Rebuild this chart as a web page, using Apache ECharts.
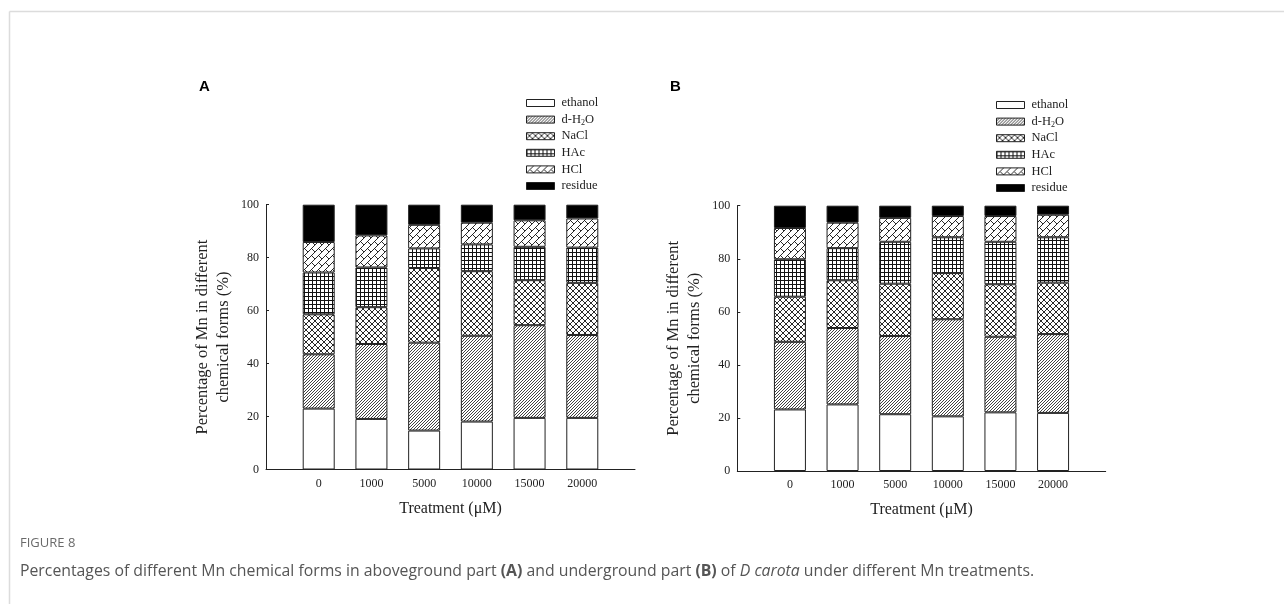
<!DOCTYPE html>
<html>
<head>
<meta charset="utf-8">
<script src="https://cdn.jsdelivr.net/npm/echarts@6/dist/echarts.min.js"></script>
<style>
html,body{margin:0;padding:0;background:#fff;}
#chart{width:1284px;height:604px;}
</style>
</head>
<body>
<div id="chart"></div>
<script>
// ---- data ----
const categories = ['0', '1000', '5000', '10000', '15000', '20000'];
const formNames = ['ethanol', 'd-H2O', 'NaCl', 'HAc', 'HCl', 'residue'];
const yTicks = [0, 20, 40, 60, 80, 100];

// Panel A (aboveground part), % of Mn
const aEthanol = [23.0, 19.1, 14.7, 18.1, 19.5, 19.5];
const aDH2O    = [20.5, 28.3, 33.2, 32.4, 35.0, 31.3];
const aNaCl    = [15.1, 13.9, 28.2, 24.4, 17.0, 19.7];
const aHAc     = [15.8, 15.0, 7.4, 10.1, 12.6, 13.3];
const aHCl     = [11.5, 12.1, 8.9, 8.2, 10.0, 11.0];
const aResidue = [14.1, 11.6, 7.6, 6.8, 5.9, 5.2];

// Panel B (underground part), % of Mn
const bEthanol = [23.2, 25.1, 21.4, 20.6, 22.1, 21.9];
const bDH2O    = [25.5, 28.8, 29.5, 36.6, 28.5, 29.7];
const bNaCl    = [17.0, 18.0, 19.7, 17.4, 19.8, 19.4];
const bHAc     = [14.1, 12.1, 15.8, 13.5, 16.0, 17.1];
const bHCl     = [11.8, 9.6, 9.0, 8.0, 9.7, 8.5];
const bResidue = [8.4, 6.4, 4.6, 3.9, 3.9, 3.4];

// ---- patterns ----
function tile(s, draw) {
  const c = document.createElement('canvas');
  c.width = s; c.height = s;
  const ctx = c.getContext('2d');
  ctx.fillStyle = '#fff';
  ctx.fillRect(0, 0, s, s);
  ctx.strokeStyle = '#111';
  draw(ctx, s);
  return { image: c, repeat: 'repeat' };
}
function line(ctx, x1, y1, x2, y2) {
  ctx.beginPath(); ctx.moveTo(x1, y1); ctx.lineTo(x2, y2); ctx.stroke();
}
const patterns = {
  'ethanol': '#ffffff',
  'd-H2O': tile(3, (ctx, s) => {
    ctx.lineWidth = 0.8;
    line(ctx, -s, s, s, -s); line(ctx, 0, s, s, 0); line(ctx, 0, 2 * s, 2 * s, 0);
  }),
  'NaCl': tile(6, (ctx, s) => {
    ctx.lineWidth = 0.9;
    line(ctx, -1, -1, s + 1, s + 1); line(ctx, -1, s + 1, s + 1, -1);
  }),
  'HAc': tile(4, (ctx, s) => {
    ctx.lineWidth = 1;
    line(ctx, 0.5, 0, 0.5, s); line(ctx, 0, 0.5, s, 0.5);
  }),
  'HCl': tile(7, (ctx, s) => {
    ctx.lineWidth = 0.9;
    line(ctx, -s, s, s, -s); line(ctx, 0, s, s, 0); line(ctx, 0, 2 * s, 2 * s, 0);
    line(ctx, s / 2, s / 2, s, s);
  }),
  'residue': '#000000'
};

const FONT = 'Liberation Serif';
const xData = [''].concat(categories, ['']);
function pad(arr) { return ['-'].concat(arr, ['-']); }

function makeSeries(idx, stackId, arrays) {
  return formNames.map((name, i) => ({
    name: name,
    type: 'bar',
    stack: stackId,
    xAxisIndex: idx,
    yAxisIndex: idx,
    barWidth: 32,
    data: pad(arrays[i]),
    itemStyle: { color: patterns[name], borderColor: '#222', borderWidth: 1 },
    emphasis: { disabled: true }
  }));
}

function xAxis(idx) {
  return {
    type: 'category', gridIndex: idx, data: xData, boundaryGap: false,
    axisLine: { lineStyle: { color: '#222', width: 1 } },
    axisTick: { show: false },
    axisLabel: { color: '#222', fontFamily: FONT, fontSize: 12, margin: 8, interval: 0 },
    name: 'Treatment (\u03bcM)', nameLocation: 'middle', nameGap: 31,
    nameTextStyle: { color: '#222', fontFamily: FONT, fontSize: 16 }
  };
}
function yAxis(idx) {
  return {
    type: 'value', gridIndex: idx, min: 0, max: 100, interval: 20,
    axisLine: { show: true, lineStyle: { color: '#222', width: 1 } },
    axisTick: { show: true, inside: true, length: 3, lineStyle: { color: '#222' } },
    splitLine: { show: false },
    axisLabel: { color: '#222', fontFamily: FONT, fontSize: 12, margin: 7,
      customValues: yTicks },
    name: 'Percentage of Mn in different\nchemical forms (%)',
    nameLocation: 'middle', nameGap: 32,
    nameTextStyle: { color: '#222', fontFamily: FONT, fontSize: 16.5, lineHeight: 21 }
  };
}
function legend(left, top) {
  return {
    orient: 'vertical', left: left, top: top,
    data: formNames, icon: 'rect', itemWidth: 28, itemHeight: 7, itemGap: 2.6,
    selectedMode: false,
    itemStyle: { borderColor: '#222', borderWidth: 1 },
    formatter: n => n === 'd-H2O' ? 'd-H{sub|2}O' : n,
    textStyle: {
      color: '#222', fontFamily: FONT, fontSize: 12.5, lineHeight: 14, padding: [0, 0, 0, 2],
      rich: { sub: { fontFamily: FONT, fontSize: 8, lineHeight: 14, verticalAlign: 'bottom', padding: [5, 0, 0, 0] } }
    }
  };
}

const chart = echarts.init(document.getElementById('chart'), null, { renderer: 'canvas' });
chart.setOption({
  animation: false,
  backgroundColor: '#fff',
  grid: [
    { left: 266, top: 204.7, width: 369, height: 264.8 },
    { left: 737.3, top: 205.7, width: 368.4, height: 265.3 }
  ],
  xAxis: [xAxis(0), xAxis(1)],
  yAxis: [yAxis(0), yAxis(1)],
  legend: [legend(521, 91), legend(991, 93)],
  series: makeSeries(0, 'A', [aEthanol, aDH2O, aNaCl, aHAc, aHCl, aResidue])
    .concat(makeSeries(1, 'B', [bEthanol, bDH2O, bNaCl, bHAc, bHCl, bResidue])),
  graphic: [
    { type: 'line', shape: { x1: 9.5, y1: 11.5, x2: 1284, y2: 11.5 }, style: { stroke: '#dcdcdc', lineWidth: 1.5 } },
    { type: 'line', shape: { x1: 9.5, y1: 11.5, x2: 9.5, y2: 604 }, style: { stroke: '#dcdcdc', lineWidth: 1.5 } },
    { type: 'text', left: 199, top: 79, style: { text: 'A', font: 'bold 15px Liberation Sans', fill: '#000' } },
    { type: 'text', left: 670, top: 79, style: { text: 'B', font: 'bold 15px Liberation Sans', fill: '#000' } },
    { type: 'text', left: 20, top: 537, style: { text: 'FIGURE 8', font: '13px Open Sans', fill: '#6a6a6a' } },
    { type: 'text', left: 20, top: 563, style: {
        text: 'Percentages of different Mn chemical forms in aboveground part {b|(A)} and underground part {b|(B)} of {i|D carota} under different Mn treatments.',
        font: '15.8px Open Sans', fill: '#555',
        rich: {
          b: { fontFamily: 'Open Sans', fontSize: 15.8, fontWeight: 'bold', fill: '#555' },
          i: { fontFamily: 'Open Sans', fontSize: 15.8, fontStyle: 'italic', fill: '#555' }
        }
      } }
  ]
});
</script>
</body>
</html>
